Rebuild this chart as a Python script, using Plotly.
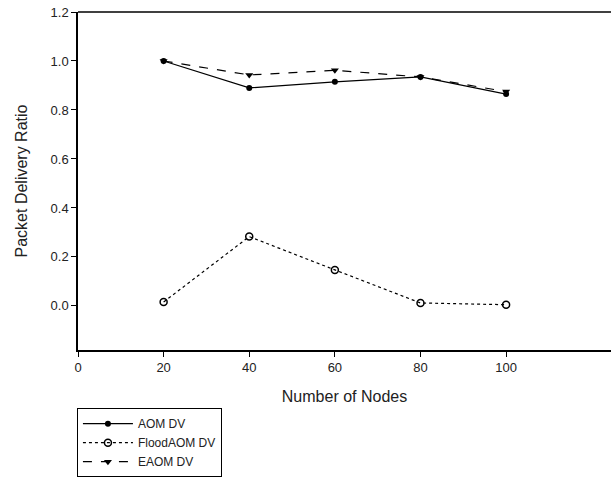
import plotly.graph_objects as go

nodes = [20, 40, 60, 80, 100]
aomdv = [1.0, 0.89, 0.915, 0.935, 0.865]
flood_aomdv = [0.016, 0.283, 0.147, 0.012, 0.005]
eaomdv = [1.0, 0.943, 0.962, 0.935, 0.875]

x_ticks = [0, 20, 40, 60, 80, 100]
y_ticks = [0.0, 0.2, 0.4, 0.6, 0.8, 1.0, 1.2]

fig = go.Figure()
fig.add_trace(go.Scatter(x=nodes, y=aomdv, name="AOM DV", mode="lines+markers",
                         line=dict(color="black", width=1.2, dash="solid"),
                         marker=dict(symbol="circle", size=6, color="black")))
fig.add_trace(go.Scatter(x=nodes, y=flood_aomdv, name="FloodAOM DV", mode="lines+markers",
                         line=dict(color="black", width=1.2, dash="dot"),
                         marker=dict(symbol="circle-open", size=7, color="black",
                                     line=dict(width=1.5, color="black"))))
fig.add_trace(go.Scatter(x=nodes, y=eaomdv, name="EAOM DV", mode="lines+markers",
                         line=dict(color="black", width=1.2, dash="dash"),
                         marker=dict(symbol="triangle-down", size=7, color="black")))

# top frame line
fig.add_shape(type="line", xref="paper", yref="paper", x0=0, x1=1, y0=1, y1=1,
              line=dict(color="black", width=1.5))

fig.update_layout(
    width=611, height=479,
    margin=dict(l=78, r=0, t=12, b=129, autoexpand=False),
    paper_bgcolor="white", plot_bgcolor="white",
    font=dict(family="Liberation Sans, Arial, sans-serif", size=13, color="#222"),
    showlegend=True,
    legend=dict(x=-0.002, y=-0.172, xanchor="left", yanchor="top",
                bordercolor="black", borderwidth=1, bgcolor="white",
                font=dict(size=12), tracegroupgap=0, itemwidth=50),
    xaxis=dict(range=[0, 124.5], tickvals=x_ticks, ticks="outside", ticklen=5,
               tickcolor="black", showline=True, linecolor="black", linewidth=1.5,
               mirror=False, showgrid=False, zeroline=False, automargin=False,
               title=dict(text="Number of Nodes", font=dict(size=16), standoff=16)),
    yaxis=dict(range=[-0.18, 1.2], tickvals=y_ticks, tickformat=".1f", ticks="outside",
               ticklen=5, tickcolor="black", showline=True, linecolor="black",
               linewidth=1.5, showgrid=False, zeroline=False, automargin=False,
               title=dict(text="Packet Delivery Ratio", font=dict(size=16), standoff=19)),
)

fig.write_html("out.html", config={"displayModeBar": False},
               post_script="document.body.style.margin='0';document.body.style.overflow='hidden';")
